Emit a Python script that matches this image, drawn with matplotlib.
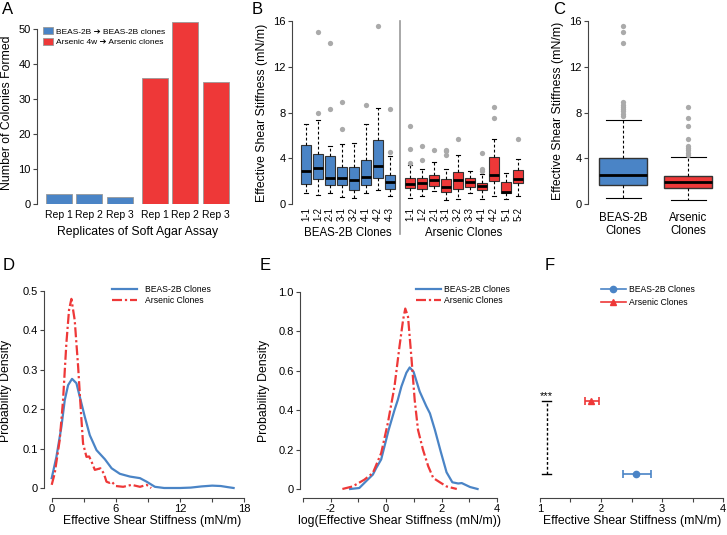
import numpy as np
import matplotlib.pyplot as plt
from matplotlib.patches import Patch
from matplotlib.lines import Line2D

plt.rcParams['font.family'] = ['Liberation Sans', 'DejaVu Sans']

W, H = 727, 535
BLUE = '#4a84c6'
RED = '#ee3838'
GREY = '#aaaaaa'
AX = '#444444'

# A: soft agar assay
repLabels = ['Rep 1', 'Rep 2', 'Rep 3', 'Rep 1', 'Rep 2', 'Rep 3']
colonies = [3, 3, 2, 36, 52, 35]
legendA = ['BEAS-2B \u2794 BEAS-2B clones', 'Arsenic 4w \u2794 Arsenic clones']

# B: per clone boxes (mN/m)
beasClones = ['1-1', '1-2', '2-1', '3-1', '3-2', '4-1', '4-2', '4-3']
beasMed = [2.91, 3.18, 2.24, 2.30, 2.07, 2.33, 3.30, 1.92]
beasQ1 = [1.75, 2.16, 1.63, 1.63, 1.20, 1.63, 2.30, 1.31]
beasQ3 = [5.16, 4.34, 4.17, 3.23, 3.26, 3.82, 5.62, 2.56]
beasLo = [0.93, 0.76, 0.93, 0.58, 0.50, 0.99, 1.20, 0.70]
beasHi = [7.02, 7.31, 5.04, 5.24, 5.30, 7.02, 8.42, 4.20]
beasOut = [[], [7.98, 15.0], [8.3, 14.1], [6.53, 8.96], [], [8.68], [15.53], [4.52, 8.3]]

arsClones = ['1-1', '1-2', '2-1', '3-1', '3-2', '3-3', '4-1', '4-2', '5-1', '5-2']
arsMed = [1.75, 1.84, 2.10, 1.49, 2.07, 1.92, 1.55, 2.56, 1.08, 2.21]
arsQ1 = [1.43, 1.29, 1.60, 1.05, 1.34, 1.49, 1.20, 2.04, 0.99, 1.81]
arsQ3 = [2.27, 2.24, 2.50, 2.21, 2.77, 2.24, 1.81, 4.10, 1.95, 2.94]
arsLo = [0.50, 0.70, 1.14, 0.35, 0.47, 0.93, 0.47, 0.70, 0.47, 0.70]
arsHi = [3.38, 3.06, 3.64, 3.09, 4.31, 2.86, 2.60, 5.68, 2.74, 3.90]
arsOut = [[3.55, 4.78, 6.85], [3.85, 5.04], [4.72], [4.28, 4.66, 4.72], [5.68], [],
          [2.90, 3.03, 4.49], [7.55, 8.48], [], [5.68]]

# C: pooled boxes
groupNames = ['BEAS-2B\nClones', 'Arsenic\nClones']
allMed = [2.50, 1.90]
allQ1 = [1.66, 1.37]
allQ3 = [4.05, 2.48]
allLo = [0.50, 0.32]
allHi = [7.37, 4.14]
allOut = [[7.7, 7.9, 8.1, 8.3, 8.5, 8.7, 8.96, 14.1, 15.0, 15.53],
          [4.3, 4.5, 4.7, 4.9, 5.1, 5.68, 6.85, 7.55, 8.48]]

# D: density of stiffness
dBeasX = [0, 0.44, 0.91, 1.22, 1.53, 1.9, 2.31, 2.62, 3.09, 3.56, 4.19, 4.97, 5.6, 6.37,
          7.31, 8.25, 8.87, 9.65, 10.5, 12.0, 13.0, 14.0, 15.0, 15.8, 16.5, 17.0]
dBeasY = [0.025, 0.079, 0.156, 0.223, 0.261, 0.277, 0.266, 0.232, 0.181, 0.134, 0.096, 0.073,
          0.050, 0.036, 0.029, 0.025, 0.016, 0.003, 0.0, 0.0, 0.001, 0.004, 0.006, 0.005, 0.002, 0.0]
dArsX = [0, 0.28, 0.75, 1.06, 1.37, 1.62, 1.84, 2.15, 2.47, 2.72, 2.93, 3.25, 3.5, 3.75, 4.03,
         4.3, 4.55, 4.87, 5.12, 5.4, 5.6, 6.0, 6.68, 7.47, 8.25, 8.87, 9.3]
dArsY = [0.008, 0.037, 0.122, 0.223, 0.367, 0.452, 0.48, 0.426, 0.308, 0.198, 0.113, 0.079,
         0.08, 0.065, 0.046, 0.048, 0.050, 0.037, 0.016, 0.013, 0.016, 0.005, 0.003, 0.008,
         0.003, 0.008, 0.0]

# E: density of log stiffness
eBeasX = [-1.30, -0.97, -0.67, -0.48, -0.36, -0.18, 0.09, 0.30, 0.42, 0.55, 0.73, 0.85, 0.99,
          1.21, 1.45, 1.58, 1.76, 1.97, 2.18, 2.39, 2.6, 2.73, 3.03, 3.30]
eBeasY = [0.0, 0.005, 0.047, 0.073, 0.106, 0.15, 0.30, 0.40, 0.452, 0.52, 0.59, 0.617, 0.595,
          0.495, 0.42, 0.384, 0.30, 0.19, 0.085, 0.034, 0.028, 0.03, 0.01, 0.0]
eArsX = [-1.58, -1.21, -0.79, -0.48, -0.18, 0.06, 0.30, 0.48, 0.61, 0.69, 0.79, 0.91, 1.03,
         1.15, 1.33, 1.52, 1.70, 1.94, 2.18, 2.55]
eArsY = [0.0, 0.013, 0.047, 0.081, 0.182, 0.334, 0.519, 0.722, 0.857, 0.916, 0.874, 0.671,
         0.452, 0.30, 0.199, 0.115, 0.056, 0.034, 0.013, 0.0]

# F: mean with interval
fGroups = ['BEAS-2B Clones', 'Arsenic Clones']
fMean = [2.58, 1.84]
fLow = [2.36, 1.74]
fHigh = [2.82, 1.97]


fig = plt.figure(figsize=(7.27, 5.35), dpi=100)


def pxAxes(left, top, right, bottom):
    return fig.add_axes([left / W, 1 - bottom / H, (right - left) / W, (bottom - top) / H])


def rStyle(ax):
    for s in ['top', 'right']:
        ax.spines[s].set_visible(False)
    for s in ['left', 'bottom']:
        ax.spines[s].set_color(AX)
        ax.spines[s].set_linewidth(0.8)
    ax.tick_params(colors=AX, labelcolor='black', length=3, width=0.8, labelsize=8, pad=1.5)
    ax.patch.set_alpha(0)


def boxStats(med, q1, q3, lo, hi, out):
    return [dict(med=m, q1=a, q3=b, whislo=l, whishi=h, fliers=np.array(o))
            for m, a, b, l, h, o in zip(med, q1, q3, lo, hi, out)]


def drawBoxes(ax, stats, positions, colors, width, capw, lw):
    bp = ax.bxp(stats, positions=positions, widths=width, patch_artist=True, capwidths=capw,
                boxprops=dict(edgecolor='#333333', linewidth=lw),
                whiskerprops=dict(color='black', linewidth=0.8, linestyle=(0, (2.5, 2))),
                capprops=dict(color='black', linewidth=0.8),
                medianprops=dict(color='black', linewidth=2),
                flierprops=dict(marker='o', markerfacecolor=GREY, markeredgecolor='none',
                                markersize=3.8),
                manage_ticks=False)
    for patch, c in zip(bp['boxes'], colors):
        patch.set_facecolor(c)


# ---------------- A
axA = pxAxes(37, 18.5, 232, 204)
rStyle(axA)
barPos = np.arange(6) + np.array([0, 0, 0, 1, 1, 1]) * 0.15
axA.bar(barPos, colonies, width=0.85, color=[BLUE] * 3 + [RED] * 3,
        edgecolor='#999999', linewidth=0.6)
axA.set_xlim(-0.72, 5.68)
axA.set_ylim(0, 53)
axA.spines['bottom'].set_visible(False)
axA.spines['left'].set_bounds(0, 50)
axA.set_yticks(range(0, 51, 10))
axA.set_xticks(barPos, repLabels, fontsize=7.5)
axA.tick_params(axis='x', length=0, pad=4)
axA.set_ylabel('Number of Colonies Formed', fontsize=8.8)
axA.yaxis.set_label_coords(-0.125, 0.49)
axA.set_xlabel('Replicates of Soft Agar Assay', fontsize=8.8, va='top')
axA.xaxis.set_label_coords(0.518, -0.12)
handlesA = [Patch(facecolor=BLUE, edgecolor='#999999', linewidth=0.6),
            Patch(facecolor=RED, edgecolor='#999999', linewidth=0.6)]
axA.legend(handlesA, legendA, loc='upper left', bbox_to_anchor=(0.03, 1 - 9 / 185.5),
           frameon=False, fontsize=6, handlelength=1.2, handleheight=0.9, handletextpad=0.4,
           labelspacing=0.25, borderpad=0, borderaxespad=0)

# ---------------- B
axB = pxAxes(292, 17.6, 526, 204)
rStyle(axB)
beasPos = np.arange(1, len(beasClones) + 1)
arsPos = np.arange(len(arsClones)) + beasPos[-1] + 1.67
drawBoxes(axB, boxStats(beasMed, beasQ1, beasQ3, beasLo, beasHi, beasOut), beasPos,
          [BLUE] * len(beasPos), 0.8, 0.4, 0.8)
drawBoxes(axB, boxStats(arsMed, arsQ1, arsQ3, arsLo, arsHi, arsOut), arsPos,
          [RED] * len(arsPos), 0.8, 0.4, 0.8)
axB.set_xlim(-0.17, 19.33)
axB.set_ylim(0, 16.3)
axB.spines['bottom'].set_visible(False)
axB.spines['left'].set_bounds(0, 16)
axB.set_yticks([0, 4, 8, 12, 16])
axB.set_xticks(list(beasPos) + list(arsPos), beasClones + arsClones, rotation=90, fontsize=7)
axB.tick_params(axis='x', length=0, pad=2)
axB.set_ylabel('Effective Shear Stiffness (mN/m)', fontsize=8.8)
axB.yaxis.set_label_coords(-0.103, 0.49)
sepX = (beasPos[-1] + arsPos[0]) / 2
axB.plot([sepX, sepX], [-2.6, 16], color='#999999', lw=1.2, clip_on=False)
axB.text(np.mean(beasPos), -2.55, 'BEAS-2B Clones', ha='center', va='center', fontsize=8.3)
axB.text(np.mean(arsPos), -2.55, 'Arsenic Clones', ha='center', va='center', fontsize=8.3)

# ---------------- C
axC = pxAxes(588, 17.6, 720, 204)
rStyle(axC)
drawBoxes(axC, boxStats(allMed, allQ1, allQ3, allLo, allHi, allOut), [1, 2],
          [BLUE, RED], 0.74, 0.54, 1.0)
axC.set_xlim(0.46, 2.49)
axC.set_ylim(0, 16.3)
axC.spines['bottom'].set_visible(False)
axC.spines['left'].set_bounds(0, 16)
axC.set_yticks([0, 4, 8, 12, 16])
axC.set_xticks([1, 2], groupNames, fontsize=8.3, linespacing=1.1)
axC.tick_params(axis='x', length=0, pad=6)
axC.set_ylabel('Effective Shear Stiffness (mN/m)', fontsize=8.8)
axC.yaxis.set_label_coords(-0.18, 0.5)

# ---------------- D
dash = (0, (4.5, 1.3, 1.0, 1.3))
axD = pxAxes(44, 283, 252, 498)
rStyle(axD)
axD.plot(dBeasX, dBeasY, color=BLUE, lw=1.6, label='BEAS-2B Clones')
axD.plot(dArsX, dArsY, color=RED, lw=1.6, ls=dash, label='Arsenic Clones')
axD.set_xlim(-0.72, 18.72)
axD.set_ylim(-0.0254, 0.5203)
axD.spines['bottom'].set_bounds(0, 18)
axD.spines['left'].set_bounds(0, 0.5)
axD.set_xticks(range(0, 19, 3), ['0', '', '6', '', '12', '', '18'])
axD.set_yticks([0, 0.1, 0.2, 0.3, 0.4, 0.5], ['0', '0.1', '0.2', '0.3', '0.4', '0.5'])
axD.set_xlabel('Effective Shear Stiffness (mN/m)', fontsize=8.8, va='top')
axD.xaxis.set_label_coords(0.52, -0.079)
axD.set_ylabel('Probability Density', fontsize=8.8)
axD.yaxis.set_label_coords(-0.154, 0.5)
axD.legend(loc='upper left', bbox_to_anchor=(68 / 208, 1 - 2 / 215), frameon=False,
           fontsize=6.2, handlelength=2.9, handletextpad=0.9, labelspacing=0.2,
           borderpad=0, borderaxespad=0)

# ---------------- E
axE = pxAxes(300, 283, 500, 498)
rStyle(axE)
axE.plot(eBeasX, eBeasY, color=BLUE, lw=1.6, label='BEAS-2B Clones')
axE.plot(eArsX, eArsY, color=RED, lw=1.6, ls=dash, label='Arsenic Clones')
axE.set_xlim(-3.11, 4.11)
axE.set_ylim(-0.0457, 1.0457)
axE.spines['bottom'].set_bounds(-3, 4)
axE.spines['left'].set_bounds(0, 1)
axE.set_xticks(range(-3, 5), ['', '-2', '', '0', '', '2', '', '4'])
axE.set_yticks([0, 0.2, 0.4, 0.6, 0.8, 1.0], ['0', '0.2', '0.4', '0.6', '0.8', '1.0'])
axE.set_xlabel('log(Effective Shear Stiffness (mN/m))', fontsize=8.8, va='top')
axE.xaxis.set_label_coords(0.5, -0.079)
axE.set_ylabel('Probability Density', fontsize=8.8)
axE.yaxis.set_label_coords(-0.15, 0.5)
axE.legend(loc='upper left', bbox_to_anchor=(116 / 200, 1 - 2 / 215), frameon=False,
           fontsize=6.2, handlelength=2.9, handletextpad=0.4, labelspacing=0.2,
           borderpad=0, borderaxespad=0)

# ---------------- F
axF = pxAxes(532, 283, 726, 498)
rStyle(axF)
fY = [1, 2]
fColors = [BLUE, RED]
fMarkers = ['o', '^']
for i in range(len(fMean)):
    axF.errorbar(fMean[i], fY[i], xerr=[[fMean[i] - fLow[i]], [fHigh[i] - fMean[i]]],
                 fmt=fMarkers[i], color=fColors[i], ms=4.5, elinewidth=1.2, capsize=2.9,
                 capthick=1.2)
axF.set_xlim(0.869, 4.049)
axF.set_ylim(0.67, 3.62)
axF.spines['left'].set_visible(False)
axF.spines['bottom'].set_bounds(1, 4)
axF.set_yticks([])
axF.set_xticks([1, 1.5, 2, 2.5, 3, 3.5, 4], ['1', '', '2', '', '3', '', '4'])
axF.set_xlabel('Effective Shear Stiffness (mN/m)', fontsize=8.8, va='top')
axF.xaxis.set_label_coords(0.516, -0.079)
bx = 1.11
axF.plot([bx, bx], fY, color='black', lw=1, ls=(0, (2, 1.5)))
axF.plot([bx - 0.07, bx + 0.07], [fY[0], fY[0]], color='black', lw=1)
axF.plot([bx - 0.07, bx + 0.07], [fY[1], fY[1]], color='black', lw=1)
axF.text(bx, fY[1] + 0.03, '***', ha='center', va='baseline', fontsize=8)
handlesF = [Line2D([], [], color=c, marker=m, ms=4.5, lw=1.2) for c, m in zip(fColors, fMarkers)]
axF.legend(handlesF, fGroups, loc='upper left', bbox_to_anchor=(69 / 194, 1 - 2 / 215),
           frameon=False, fontsize=6.2, handlelength=2.9, handletextpad=0.4, labelspacing=0.45,
           borderpad=0, borderaxespad=0)

# panel letters
for letter, x, y in [('A', 2, 2), ('B', 252, 2), ('C', 553, 2),
                     ('D', 3, 258), ('E', 260, 258), ('F', 545, 258)]:
    fig.text(x / W, 1 - y / H, letter, fontsize=12, ha='left', va='top')

fig.savefig('out.png', dpi=100)
